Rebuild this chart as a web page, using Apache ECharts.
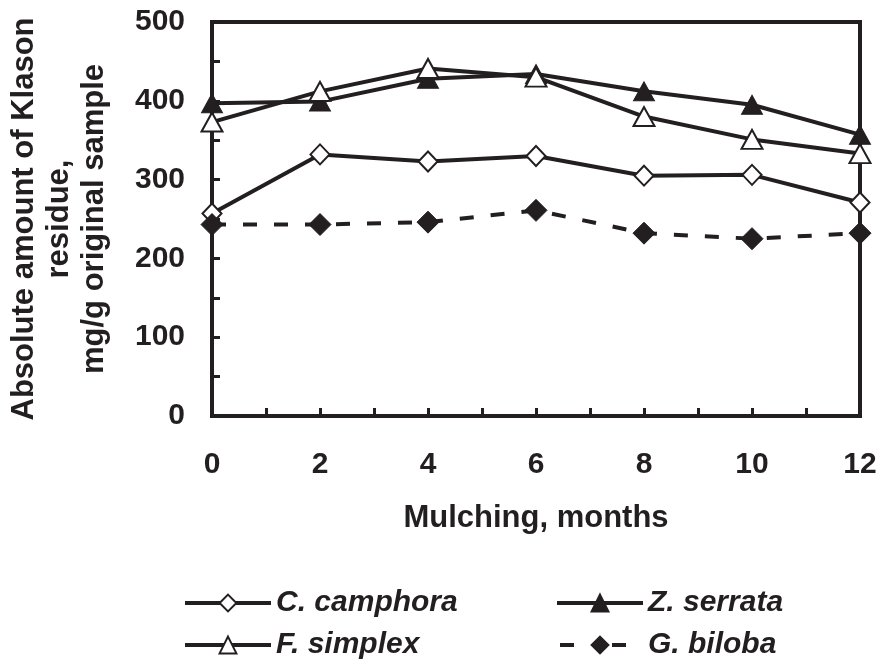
<!DOCTYPE html>
<html>
<head>
<meta charset="utf-8">
<script src="https://cdn.jsdelivr.net/npm/echarts@6/dist/echarts.min.js"></script>
<style>
  html, body { margin: 0; padding: 0; background: #ffffff; }
  #chart { width: 882px; height: 664px; }
</style>
</head>
<body>
<div id="chart"></div>
<script>
// Mulching time in months
const months = [0, 2, 4, 6, 8, 10, 12];
// Absolute amount of Klason residue, mg/g original sample
const camphora = [257, 332, 323, 330, 305, 306, 271];
const serrata  = [397, 399, 428, 434, 412, 395, 357];
const simplex  = [373, 412, 441, 430, 380, 351, 333];
const biloba   = [243, 243, 246, 261, 232, 225, 232];
const seriesNames = ['C. camphora', 'Z. serrata', 'F. simplex', 'G. biloba'];

const INK = '#231f20';
const FONT = '"Liberation Sans", Arial, sans-serif';

const pairs = vals => months.map((m, i) => [m, vals[i]]);

const chart = echarts.init(document.getElementById('chart'), null, { renderer: 'canvas' });

function lineSeries(name, vals, symbol, size, filled, dashed) {
  return {
    name: name,
    type: 'line',
    data: pairs(vals),
    clip: false,
    symbol: symbol,
    symbolSize: size,
    showAllSymbol: true,
    lineStyle: { color: INK, width: 4, type: dashed ? [14, 17] : 'solid' },
    itemStyle: filled
      ? { color: INK, borderColor: INK, borderWidth: 1 }
      : { color: '#ffffff', borderColor: INK, borderWidth: 2 },
    emphasis: { disabled: true },
    animation: false
  };
}

function legendAt(name, left, top, dashed) {
  return {
    data: [name],
    left: left,
    top: top,
    padding: 0,
    orient: 'horizontal',
    itemWidth: 86,
    itemHeight: 21,
    itemGap: 0,
    selectedMode: false,
    lineStyle: { color: INK, width: 4, type: dashed ? [14, 38] : 'solid', dashOffset: dashed ? -3 : 0 },
    textStyle: { fontFamily: FONT, fontSize: 30, fontWeight: 'bold', fontStyle: 'italic', color: INK }
  };
}

chart.setOption({
  backgroundColor: '#ffffff',
  animation: false,
  grid: {
    left: 212, right: 22, top: 22, bottom: 248,
    outerBoundsMode: 'none',
    containLabel: false,
    show: true, borderColor: INK, borderWidth: 4, backgroundColor: 'transparent'
  },
  xAxis: {
    type: 'value',
    min: 0, max: 12, interval: 1,
    name: 'Mulching, months',
    nameLocation: 'middle',
    nameGap: 87,
    nameTextStyle: { fontFamily: FONT, fontSize: 31, fontWeight: 'bold', color: INK },
    axisLine: { show: true, lineStyle: { color: INK, width: 4 } },
    axisTick: { show: true, inside: true, length: 8, lineStyle: { color: INK, width: 3 } },
    splitLine: { show: false },
    axisLabel: {
      margin: 34,
      fontFamily: FONT, fontSize: 30, fontWeight: 'bold', color: INK,
      formatter: v => (v % 2 === 0 ? String(v) : '')
    }
  },
  yAxis: {
    type: 'value',
    min: 0, max: 500, interval: 50,
    name: 'Absolute amount of Klason\nresidue,\nmg/g original sample',
    nameLocation: 'middle',
    nameRotate: 90,
    nameGap: 100,
    nameTextStyle: { fontFamily: FONT, fontSize: 31, fontWeight: 'bold', color: INK, lineHeight: 35, align: 'center' },
    axisLine: { show: true, lineStyle: { color: INK, width: 4 } },
    axisTick: { show: true, inside: true, length: 8, lineStyle: { color: INK, width: 3 } },
    splitLine: { show: false },
    axisLabel: {
      margin: 27,
      fontFamily: FONT, fontSize: 30, fontWeight: 'bold', color: INK,
      formatter: v => (v % 100 === 0 ? String(v) : '')
    }
  },
  legend: [
    legendAt(seriesNames[0], 183, 588, false),
    legendAt(seriesNames[1], 555, 588, false),
    legendAt(seriesNames[2], 183, 630, false),
    legendAt(seriesNames[3], 555, 630, true)
  ],
  series: [
    lineSeries(seriesNames[0], camphora, 'diamond', [19, 20], false, false),
    lineSeries(seriesNames[1], serrata, 'triangle', [21, 19], true, false),
    lineSeries(seriesNames[2], simplex, 'triangle', [21, 19], false, false),
    lineSeries(seriesNames[3], biloba, 'diamond', [22, 22], true, true)
  ]
});
</script>
</body>
</html>
